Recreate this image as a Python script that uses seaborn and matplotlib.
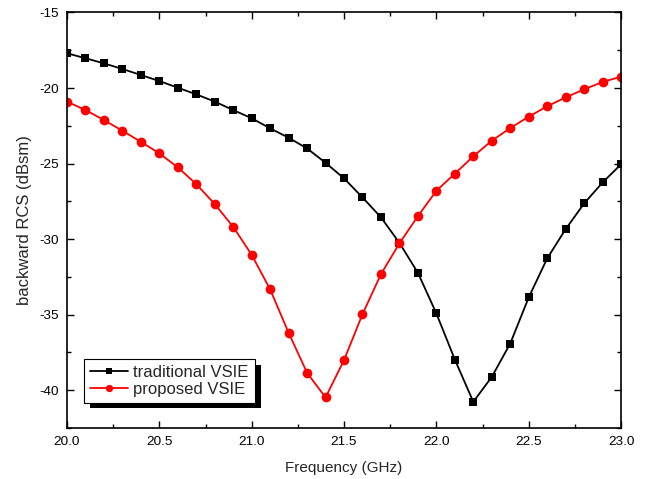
import numpy as np
import pandas as pd
import matplotlib
matplotlib.use("Agg")
import matplotlib.pyplot as plt
import matplotlib.patheffects as pe
from matplotlib.ticker import MultipleLocator, FormatStrFormatter
import seaborn as sns

freq = [20.0, 20.1, 20.2, 20.3, 20.4, 20.5, 20.6, 20.7, 20.8, 20.9,
        21.0, 21.1, 21.2, 21.3, 21.4, 21.5, 21.6, 21.7, 21.8, 21.9,
        22.0, 22.1, 22.2, 22.3, 22.4, 22.5, 22.6, 22.7, 22.8, 22.9, 23.0]
traditional = [-17.7, -18.03, -18.37, -18.74, -19.14, -19.54, -19.98, -20.42, -20.9, -21.46,
               -22.0, -22.67, -23.29, -24.0, -24.95, -25.98, -27.24, -28.56, -30.25, -32.23,
               -34.92, -37.97, -40.77, -39.12, -36.91, -33.86, -31.28, -29.34, -27.64, -26.25, -25.05]
proposed = [-20.9, -21.46, -22.12, -22.83, -23.56, -24.33, -25.25, -26.36, -27.68, -29.19,
            -31.04, -33.33, -36.2, -38.85, -40.48, -38.01, -34.97, -32.32, -30.28, -28.48,
            -26.8, -25.67, -24.52, -23.49, -22.65, -21.9, -21.21, -20.62, -20.09, -19.6, -19.25]
labels = ["traditional VSIE", "proposed VSIE"]

sns.set_style("ticks")
plt.rcParams['font.family'] = ['Liberation Sans', 'DejaVu Sans']

fig = plt.figure(figsize=(6.6, 4.79), dpi=100)
ax = fig.add_axes([0.1015, 0.1065, 0.8395, 0.8675])

df = pd.DataFrame({"freq": freq, "traditional": traditional, "proposed": proposed})

sns.lineplot(data=df, x="freq", y="traditional", ax=ax, color="black", marker="s",
             markersize=6, markeredgewidth=0, linewidth=1.3, label=labels[0])
sns.lineplot(data=df, x="freq", y="proposed", ax=ax, color="red", marker="o",
             markersize=7, markeredgewidth=0, linewidth=1.3, label=labels[1])

ax.set_xlim(20.0, 23.0)
ax.set_ylim(-42.5, -15)
ax.xaxis.set_major_locator(MultipleLocator(0.5))
ax.xaxis.set_minor_locator(MultipleLocator(0.25))
ax.yaxis.set_major_locator(MultipleLocator(5))
ax.yaxis.set_minor_locator(MultipleLocator(2.5))
ax.xaxis.set_major_formatter(FormatStrFormatter('%.1f'))
ax.yaxis.set_major_formatter(FormatStrFormatter('%d'))

ax.tick_params(which='both', direction='in', top=True, right=True, labelsize=9.7, colors='black')
ax.tick_params(which='major', length=5, width=1)
ax.tick_params(which='minor', length=3, width=1)
ax.tick_params(axis='x', which='major', pad=6)
ax.tick_params(axis='y', which='major', pad=6)
for s in ax.spines.values():
    s.set_visible(True)
    s.set_linewidth(1.2)
    s.set_color('black')

ax.set_xlabel("Frequency (GHz)", fontsize=11, labelpad=9)
ax.set_ylabel("backward RCS (dBsm)", fontsize=12, labelpad=5)

leg = ax.legend(loc='lower left', bbox_to_anchor=(0.031, 0.06), fontsize=12, frameon=True,
                fancybox=False, handlelength=2.3, borderpad=0.35, labelspacing=0.12,
                handletextpad=0.3, borderaxespad=0, markerscale=0.75)
frame = leg.get_frame()
frame.set_edgecolor('black')
frame.set_linewidth(0.8)
frame.set_alpha(1)
frame.set_path_effects([pe.SimplePatchShadow(offset=(4.3, -3.8), shadow_rgbFace='black', alpha=1), pe.Normal()])

fig.savefig("out.png", dpi=100)
